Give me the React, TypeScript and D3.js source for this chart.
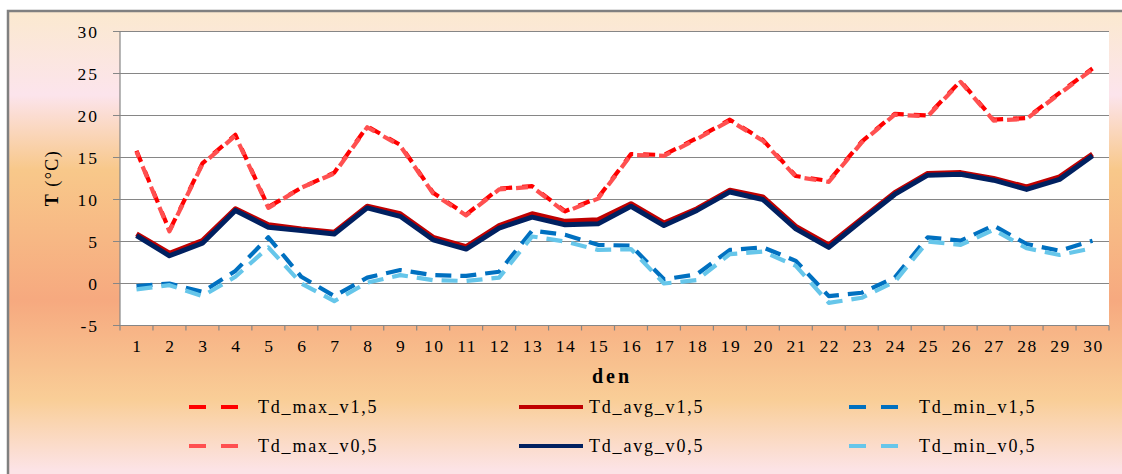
import React from "react";
import * as d3 from "d3";

const days = d3.range(1, 31).map(String);
const yTicks = [-5, 0, 5, 10, 15, 20, 25, 30];

const tdMaxV15 = [15.8, 6.3, 14.3, 17.7, 9.1, 11.4, 13.2, 18.7, 16.5, 10.8, 8.2, 11.3, 11.6, 8.6, 10.2, 15.4, 15.3, 17.3, 19.5, 17.1, 12.8, 12.2, 16.9, 20.2, 20.0, 24.1, 19.5, 19.7, 22.7, 25.6];
const tdMaxV05 = [15.7, 6.2, 14.2, 17.6, 9.0, 11.4, 13.1, 18.6, 16.4, 10.7, 8.1, 11.2, 11.5, 8.5, 10.1, 15.3, 15.2, 17.2, 19.4, 17.0, 12.7, 12.1, 16.8, 20.1, 19.9, 24.0, 19.4, 19.6, 22.6, 25.5];
const tdAvgV15 = [5.9, 3.6, 5.1, 8.9, 7.0, 6.5, 6.1, 9.2, 8.3, 5.5, 4.4, 6.9, 8.3, 7.4, 7.6, 9.5, 7.2, 8.9, 11.1, 10.3, 6.8, 4.6, 7.7, 10.8, 13.1, 13.2, 12.5, 11.5, 12.7, 15.4];
const tdAvgV05 = [5.7, 3.3, 4.8, 8.7, 6.7, 6.3, 5.9, 9.0, 8.0, 5.2, 4.1, 6.6, 7.9, 7.0, 7.1, 9.2, 6.9, 8.7, 10.9, 10.0, 6.5, 4.3, 7.5, 10.6, 12.9, 13.0, 12.3, 11.2, 12.4, 15.2];
const tdMinV15 = [-0.3, 0.0, -1.0, 1.5, 5.5, 0.8, -1.5, 0.7, 1.6, 1.0, 0.9, 1.4, 6.3, 5.8, 4.6, 4.5, 0.5, 1.1, 4.0, 4.3, 2.7, -1.5, -1.1, 0.7, 5.5, 5.1, 6.9, 4.7, 3.9, 5.1];
const tdMinV05 = [-0.7, -0.2, -1.5, 0.8, 4.3, 0.0, -2.1, 0.1, 1.0, 0.4, 0.3, 0.7, 5.6, 5.0, 4.0, 4.1, 0.0, 0.4, 3.5, 3.8, 2.1, -2.3, -1.7, 0.2, 5.0, 4.6, 6.4, 4.2, 3.4, 4.2];

const seriesNames = ["Td_max_v1,5", "Td_avg_v1,5", "Td_min_v1,5", "Td_max_v0,5", "Td_avg_v0,5", "Td_min_v0,5"];
const seriesValues = [tdMaxV15, tdAvgV15, tdMinV15, tdMaxV05, tdAvgV05, tdMinV05];
const seriesColors = ["#FF0000", "#C00000", "#0070C0", "#FF5050", "#002060", "#66C6EA"];
const seriesDashed = [true, false, true, true, false, true];
const seriesDash = ["12,10", "", "16,9", "12,10", "", "16,9"];
const seriesOffset = [0, 0, 0, 6, 0, 0];

const W = 1122;
const H = 474;
const plotL = 120;
const plotR = 1109;
const plotT = 31.5;
const plotB = 325.5;
const font = "'Liberation Serif', 'Times New Roman', serif";

export default function App() {
  const x = d3.scalePoint<string>().domain(days).range([plotL, plotR]).padding(0.5);
  const xb = d3.scaleBand<string>().domain(days).range([plotL, plotR]);
  const y = d3.scaleLinear().domain([-5, 30]).range([plotB, plotT]);
  const line = d3
    .line<number>()
    .x((_, i) => x(days[i]) as number)
    .y((v) => y(v));

  const legendCols = [189, 519, 849];
  const legendTextX = [258, 589, 919];
  const legendRows = [407, 446];

  return (
    <svg width={W} height={H} style={{ position: "absolute", left: 0, top: 0 }}>
      <defs>
        <linearGradient id="bg" x1="0" y1="0" x2="0" y2={H} gradientUnits="userSpaceOnUse">
          <stop offset={11 / H} stopColor="#FBE9CF" />
          <stop offset={95 / H} stopColor="#FCE4EC" />
          <stop offset={170 / H} stopColor="#F8C88A" />
          <stop offset={300 / H} stopColor="#F6A97F" />
          <stop offset={400 / H} stopColor="#F9CE97" />
          <stop offset={470 / H} stopColor="#FCE3E6" />
        </linearGradient>
      </defs>
      <rect x={0} y={0} width={W} height={H} fill="#ffffff" />
      <rect x={8} y={11} width={W} height={H} fill="url(#bg)" stroke="#808080" strokeWidth={2.5} />
      <rect x={plotL} y={plotT} width={plotR - plotL} height={plotB - plotT} fill="#ffffff" />
      {yTicks.map((t) => (
        <g key={t}>
          <line x1={plotL - 7} x2={plotR} y1={y(t)} y2={y(t)} stroke="#868686" strokeWidth={1.2} />
          <text x={99} y={y(t) + 6} textAnchor="end" fontFamily={font} fontSize={17.5} letterSpacing={2} fill="#000">
            {t}
          </text>
        </g>
      ))}
      <line x1={plotL} x2={plotL} y1={plotT} y2={plotB} stroke="#868686" strokeWidth={1.2} />
      {days.map((d) => (
        <line key={"t" + d} x1={xb(d) as number} x2={xb(d) as number} y1={plotB} y2={plotB + 5} stroke="#868686" strokeWidth={1.2} />
      ))}
      <line x1={plotR} x2={plotR} y1={plotB} y2={plotB + 5} stroke="#868686" strokeWidth={1.2} />
      {days.map((d) => (
        <text key={"l" + d} x={(x(d) as number) + 1} y={352} textAnchor="middle" fontFamily={font} fontSize={17.5} letterSpacing={1.5} fill="#000">
          {d}
        </text>
      ))}
      <text x={612} y={383} textAnchor="middle" fontFamily={font} fontSize={20} fontWeight="bold" letterSpacing={3} fill="#000">
        den
      </text>
      <text transform={`translate(58,178) rotate(-90)`} textAnchor="middle" fontFamily={font} fontSize={18} letterSpacing={1.5} fill="#000">
        <tspan fontWeight="bold">T</tspan>
        <tspan> (°C)</tspan>
      </text>
      {seriesValues.map((vals, i) => (
        <path
          key={seriesNames[i]}
          d={line(vals) as string}
          fill="none"
          stroke={seriesColors[i]}
          strokeWidth={seriesDashed[i] ? 4.2 : 5}
          strokeDasharray={seriesDashed[i] ? seriesDash[i] : undefined}
          strokeDashoffset={seriesOffset[i]}
          strokeLinejoin="round"
        />
      ))}
      {seriesNames.map((name, i) => {
        const col = i % 3;
        const row = Math.floor(i / 3);
        const lx = legendCols[col];
        const ly = legendRows[row];
        const len = col === 1 ? 64 : 50;
        return (
          <g key={"lg" + name}>
            <line
              x1={lx}
              x2={lx + len}
              y1={ly}
              y2={ly}
              stroke={seriesColors[i]}
              strokeWidth={4}
              strokeDasharray={seriesDashed[i] ? "17,15" : undefined}
            />
            <text x={legendTextX[col]} y={ly + 6} fontFamily={font} fontSize={18} letterSpacing={1.8} fill="#000">
              {name}
            </text>
          </g>
        );
      })}
    </svg>
  );
}
